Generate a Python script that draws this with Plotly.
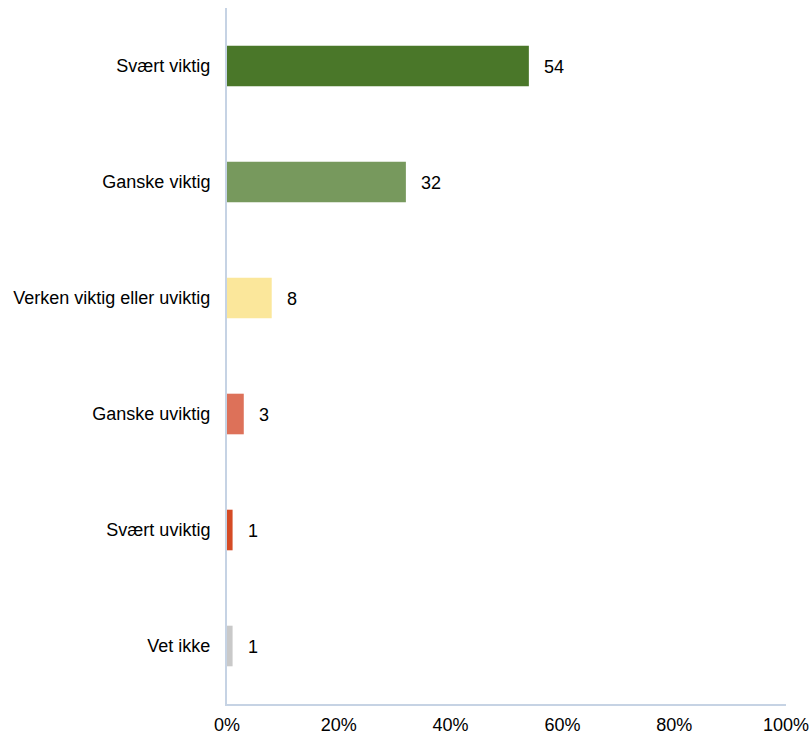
import plotly.graph_objects as go

categories = ["Svært viktig", "Ganske viktig", "Verken viktig eller uviktig",
              "Ganske uviktig", "Svært uviktig", "Vet ikke"]
values = [54, 32, 8, 3, 1, 1]
colors = ["#4A7729", "#77995D", "#FBE79B", "#DD7159", "#D54B25", "#C9C9C9"]
x_ticks = [0, 20, 40, 60, 80, 100]
x_tick_labels = ["0%", "20%", "40%", "60%", "80%", "100%"]

FONT = "Liberation Sans, Arial, sans-serif"
FS = 18

fig = go.Figure()
fig.add_trace(go.Bar(
    x=values, y=categories, orientation="h",
    marker=dict(color=colors, line=dict(width=0)),
    hoverinfo="x+y",
))

for c, v in zip(categories, values):
    fig.add_annotation(x=v, y=c, text=str(v), showarrow=False,
                       xanchor="left", xshift=13, yshift=-1,
                       font=dict(family=FONT, size=FS, color="#000000"))

fig.update_layout(
    width=812, height=735,
    margin=dict(l=227, r=26, t=8, b=31),
    paper_bgcolor="white", plot_bgcolor="white",
    bargap=0.65,
    showlegend=False,
    font=dict(family=FONT, size=FS, color="#000000"),
)
fig.update_xaxes(
    range=[0, 100], tickvals=x_ticks, ticktext=x_tick_labels,
    showgrid=False, zeroline=False,
    showline=True, linecolor="#C6D3E4", linewidth=2,
    ticks="", ticklabelstandoff=3, automargin=False,
    tickfont=dict(family=FONT, size=FS, color="#000000"),
)
fig.update_yaxes(
    autorange="reversed", showgrid=False, zeroline=False,
    showline=True, linecolor="#C6D3E4", linewidth=2,
    ticks="", ticklabelstandoff=11, automargin=False,
    tickfont=dict(family=FONT, size=FS, color="#000000"),
)

fig.write_html("out.html", config={"displayModeBar": False},
               post_script="document.body.style.margin='0';document.body.style.overflow='hidden';")
